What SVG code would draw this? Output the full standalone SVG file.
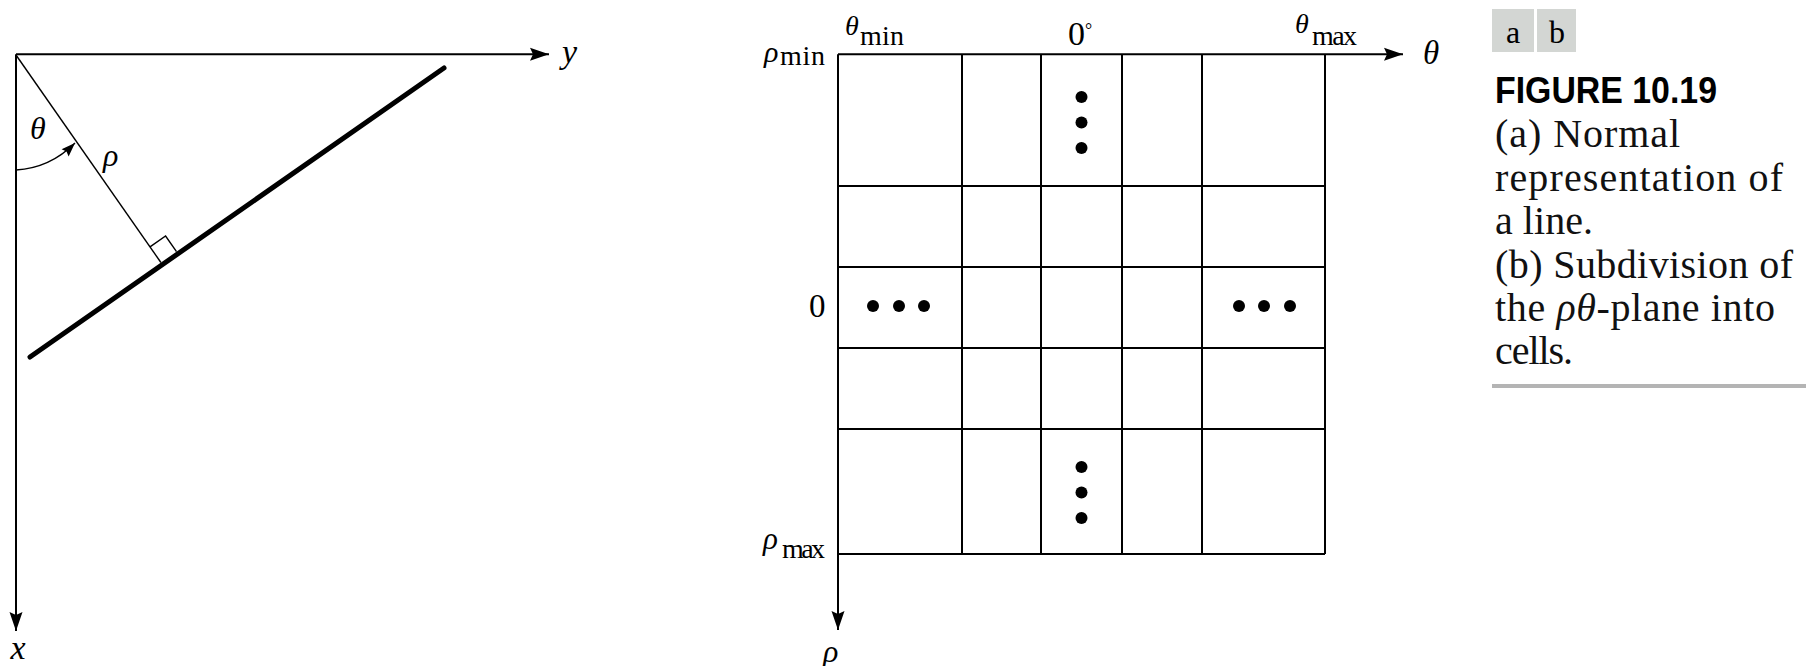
<svg xmlns="http://www.w3.org/2000/svg" width="1806" height="666" viewBox="0 0 1806 666">
<style>
.ax{stroke:#000;stroke-width:2;fill:none}
.gl{stroke:#000;stroke-width:2;fill:none}
.thin{stroke:#000;stroke-width:1.4;fill:none}
.sym{font-family:"Liberation Serif","Times New Roman",serif;font-style:italic;fill:#000}
.sub{font-family:"Liberation Serif","Times New Roman",serif;fill:#000}
.num{font-family:"Liberation Serif","Times New Roman",serif;fill:#000}
.cap{font-family:"Liberation Serif","Times New Roman",serif;font-size:40px;fill:#111}
.dot{fill:#000}
</style>
<defs>
<marker id="ah" viewBox="-21 -8 22 16" refX="0" refY="0" markerWidth="22" markerHeight="16" orient="auto" markerUnits="userSpaceOnUse">
<path d="M0,0 L-19,-6.5 L-16,0 L-19,6.5 Z" fill="#000"/>
</marker>
<marker id="ahs" viewBox="-16 -7 17 14" refX="0" refY="0" markerWidth="17" markerHeight="14" orient="auto" markerUnits="userSpaceOnUse">
<path d="M0,0 L-14,-5 L-12,0 L-14,5 Z" fill="#000"/>
</marker>
</defs>

<g id="connectors">
<line class="ax" x1="16" y1="54.3" x2="549" y2="54.3" marker-end="url(#ah)"/>
<line class="ax" x1="16" y1="54.3" x2="16" y2="631" marker-end="url(#ah)"/>
<line class="ax" x1="838" y1="54.3" x2="1403" y2="54.3" marker-end="url(#ah)"/>
<line class="ax" x1="838" y1="54.3" x2="838" y2="630" marker-end="url(#ah)"/>
</g>

<g id="panel-a">
<line x1="30" y1="357" x2="444" y2="68" stroke="#000" stroke-width="5" stroke-linecap="round"/>
<line class="thin" x1="16" y1="55" x2="160.9" y2="262.5"/>
<polyline class="thin" points="150,246.9 165.6,236 176.5,251.6"/>
<path class="thin" d="M16,170 Q50,168 75,143" marker-end="url(#ahs)"/>
<text class="sym" x="30" y="139" font-size="32">θ</text>
<text class="sym" x="103" y="166" font-size="32">ρ</text>
<text class="sym" x="562" y="63" font-size="34">y</text>
<text class="sym" x="18" y="659" font-size="34" text-anchor="middle">x</text>
</g>

<g id="panel-b">
<g id="grid">
<line class="gl" x1="962" y1="54.3" x2="962" y2="554"/>
<line class="gl" x1="1041" y1="54.3" x2="1041" y2="554"/>
<line class="gl" x1="1122" y1="54.3" x2="1122" y2="554"/>
<line class="gl" x1="1202" y1="54.3" x2="1202" y2="554"/>
<line class="gl" x1="1325" y1="54.3" x2="1325" y2="554"/>
<line class="gl" x1="838" y1="186" x2="1325" y2="186"/>
<line class="gl" x1="838" y1="267" x2="1325" y2="267"/>
<line class="gl" x1="838" y1="348" x2="1325" y2="348"/>
<line class="gl" x1="838" y1="429" x2="1325" y2="429"/>
<line class="gl" x1="838" y1="554" x2="1325" y2="554"/>
</g>
<g id="dots">
<circle class="dot" cx="1081.5" cy="97" r="6"/>
<circle class="dot" cx="1081.5" cy="122.5" r="6"/>
<circle class="dot" cx="1081.5" cy="148" r="6"/>
<circle class="dot" cx="1081.5" cy="467" r="6"/>
<circle class="dot" cx="1081.5" cy="492.5" r="6"/>
<circle class="dot" cx="1081.5" cy="518" r="6"/>
<circle class="dot" cx="873" cy="306" r="6"/>
<circle class="dot" cx="899" cy="306" r="6"/>
<circle class="dot" cx="924" cy="306" r="6"/>
<circle class="dot" cx="1239" cy="306" r="6"/>
<circle class="dot" cx="1264" cy="306" r="6"/>
<circle class="dot" cx="1290" cy="306" r="6"/>
</g>
<g id="labels-b">
<text class="sym" x="764" y="62" font-size="30">ρ</text>
<text class="sub" x="780" y="65" font-size="28" textLength="45">min</text>
<text class="sym" x="845" y="35" font-size="28">θ</text>
<text class="sub" x="860" y="45" font-size="28" textLength="44">min</text>
<text class="num" x="1068" y="45" font-size="34">0<tspan font-size="18" dy="-9">°</tspan></text>
<text class="sym" x="1295" y="33" font-size="28">θ</text>
<text class="sub" x="1312" y="45" font-size="28" textLength="45">max</text>
<text class="sym" x="1423" y="64" font-size="33">θ</text>
<text class="num" x="809" y="317" font-size="33">0</text>
<text class="sym" x="763" y="549" font-size="31">ρ</text>
<text class="sub" x="782" y="558" font-size="28" textLength="43">max</text>
<text class="sym" x="823" y="662" font-size="32">ρ</text>
</g>
</g>

<g id="caption">
<rect x="1492" y="9" width="42" height="43" fill="#d3d6d3"/>
<rect x="1537" y="9" width="39" height="43" fill="#d3d6d3"/>
<text class="sub" x="1513" y="43" font-size="32" text-anchor="middle" fill="#3a3a3a">a</text>
<text class="sub" x="1557" y="43" font-size="32" text-anchor="middle" fill="#3a3a3a">b</text>
<text x="1495" y="103" font-family="'Liberation Sans',Arial,sans-serif" font-weight="bold" font-size="37" textLength="222" lengthAdjust="spacingAndGlyphs" fill="#000">FIGURE 10.19</text>
<text class="cap" x="1495" y="147" textLength="185">(a) Normal</text>
<text class="cap" x="1495" y="191" textLength="288">representation of</text>
<text class="cap" x="1495" y="234" textLength="98">a line.</text>
<text class="cap" x="1495" y="278" textLength="298">(b) Subdivision of</text>
<text class="cap" x="1495" y="321" textLength="280">the <tspan font-style="italic">ρθ</tspan>-plane into</text>
<text class="cap" x="1495" y="364" textLength="78">cells.</text>
<line x1="1492" y1="386" x2="1806" y2="386" stroke="#b4b4b4" stroke-width="4"/>
</g>
</svg>
